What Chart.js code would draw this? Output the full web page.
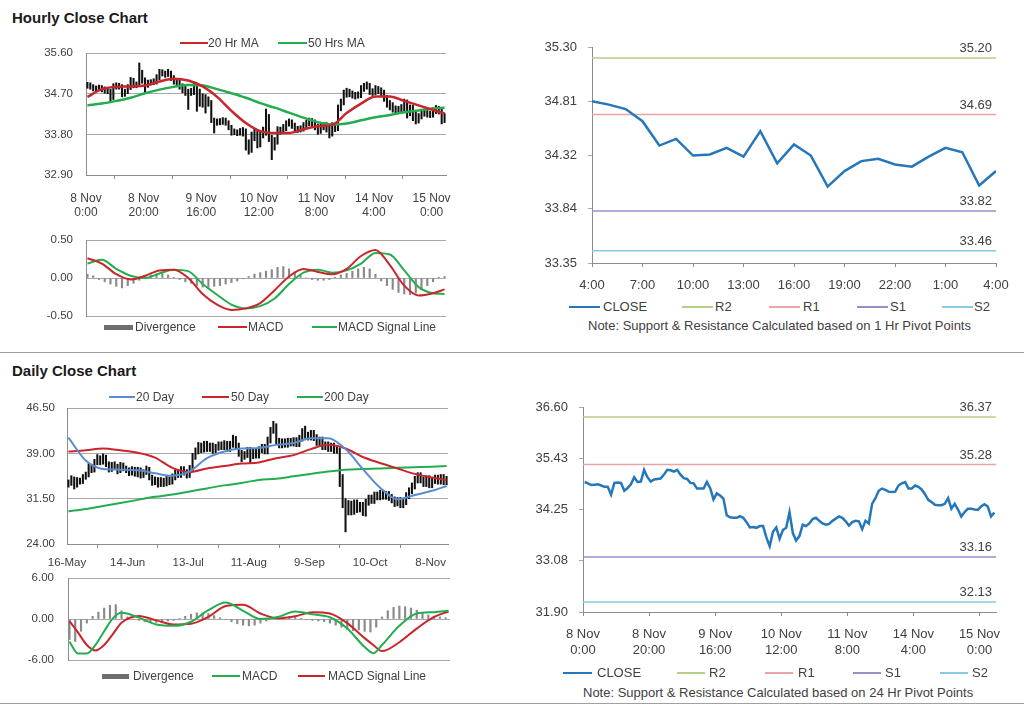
<!DOCTYPE html>
<html>
<head>
<meta charset="utf-8">
<script src="https://cdn.jsdelivr.net/npm/chart.js@4.4.0/dist/chart.umd.min.js"></script>
<style>
  body { margin: 0; background: #fff; font-family: "Liberation Sans", Arial, sans-serif; color: #404040; }
  #page { position: relative; width: 1024px; height: 707px; overflow: hidden; }
  canvas { position: absolute; }
  .title { position: absolute; left: 12px; font-weight: bold; font-size: 15px; color: #1a1a1a; }
  .rule { position: absolute; left: 0; width: 1024px; height: 0; border-top: 1px solid #a0a0a0; }
  .lg { position: absolute; white-space: nowrap; height: 16px; line-height: 16px; }
  .lg i { position: absolute; left: 0; display: block; }
  .note { position: absolute; font-size: 13px; line-height: 16px; white-space: nowrap; }
</style>
</head>
<body>
<div id="page">
  <div class="title" style="top:9px">Hourly Close Chart</div>
  <div class="title" style="top:362px">Daily Close Chart</div>
  <div class="rule" style="top:352px"></div>
  <div class="rule" style="top:703px"></div>

  <canvas id="hrPrice" width="426" height="177" style="left:30px;top:43px"></canvas>
  <canvas id="hrMacd" width="426" height="94" style="left:30px;top:230px"></canvas>
  <canvas id="hrPivot" width="482" height="258" style="left:530px;top:35px"></canvas>
  <canvas id="dayPrice" width="446" height="174" style="left:12px;top:398px"></canvas>
  <canvas id="dayMacd" width="448" height="100" style="left:12px;top:568px"></canvas>
  <canvas id="dayPivot" width="487" height="262" style="left:523px;top:395px"></canvas>

  <div class="note" style="left:588px;top:318px">Note: Support &amp; Resistance Calculated based on 1 Hr Pivot Points</div>
  <div class="note" style="left:583px;top:685px">Note: Support &amp; Resistance Calculated based on 24 Hr Pivot Points</div>
</div>

<script>
// ---- hourly data (8 Nov 0:00 .. 15 Nov 4:00, one bar per hour) ----
const hourLabels = [['8 Nov', '0:00'], ['8 Nov', '20:00'], ['9 Nov', '16:00'], ['10 Nov', '12:00'],
  ['11 Nov', '8:00'], ['14 Nov', '4:00'], ['15 Nov', '0:00']];
const hourTickPos = [0, 20, 40, 60, 80, 100, 120];

const hourClose = [
  34.88, 34.85, 34.81, 34.82, 34.83, 34.80, 34.77, 34.77, 34.59, 34.86,
  34.87, 34.86, 34.68, 34.74, 34.83, 34.99, 34.88, 34.89, 35.16, 34.99,
  34.89, 34.94, 34.95, 34.96, 35.05, 35.16, 35.15, 35.12, 35.16, 35.05,
  34.97, 34.95, 34.86, 34.85, 34.73, 34.73, 34.73, 34.88, 34.74, 34.48,
  34.62, 34.57, 34.50, 34.12, 34.07, 34.06, 34.06, 34.10, 34.06, 33.96,
  33.84, 33.85, 33.83, 33.87, 33.87, 33.61, 33.41, 33.74, 33.84, 33.58,
  33.78, 33.83, 34.19, 33.71, 33.54, 33.64, 33.90, 33.87, 33.93, 34.03,
  34.06, 33.99, 33.93, 33.90, 33.92, 33.99, 34.04, 34.09, 34.06, 33.98,
  33.88, 33.96, 33.99, 33.98, 33.80, 33.99, 33.93, 34.38, 34.51, 34.68,
  34.73, 34.70, 34.66, 34.65, 34.66, 34.80, 34.85, 34.88, 34.73, 34.73,
  34.80, 34.77, 34.71, 34.60, 34.47, 34.42, 34.36, 34.35, 34.35, 34.38,
  34.51, 34.27, 34.38, 34.25, 34.09, 34.19, 34.27, 34.27, 34.25, 34.24,
  34.32, 34.37, 34.32, 34.09, 34.18];
const hourHigh = [
  34.95, 34.94, 34.90, 34.87, 34.89, 34.88, 34.85, 34.83, 34.80, 34.92,
  34.94, 34.93, 34.90, 34.80, 34.90, 35.06, 35.04, 34.96, 35.38, 35.22,
  35.05, 35.00, 35.01, 35.03, 35.12, 35.24, 35.23, 35.20, 35.24, 35.20,
  35.10, 35.03, 35.01, 34.92, 34.90, 34.80, 34.82, 34.95, 34.92, 34.80,
  34.70, 34.68, 34.63, 34.55, 34.16, 34.14, 34.15, 34.17, 34.16, 34.10,
  34.00, 33.92, 33.90, 33.93, 33.95, 33.92, 33.68, 33.85, 33.92, 33.88,
  33.86, 33.96, 34.36, 34.24, 33.78, 33.73, 33.97, 33.96, 34.02, 34.10,
  34.14, 34.12, 34.05, 33.98, 33.99, 34.06, 34.11, 34.16, 34.15, 34.12,
  34.03, 34.03, 34.06, 34.06, 34.04, 34.06, 34.05, 34.45, 34.58, 34.78,
  34.82, 34.80, 34.76, 34.73, 34.74, 34.88, 34.93, 34.96, 34.93, 34.81,
  34.88, 34.86, 34.83, 34.78, 34.66, 34.55, 34.50, 34.43, 34.42, 34.46,
  34.58, 34.56, 34.45, 34.44, 34.30, 34.26, 34.33, 34.34, 34.33, 34.31,
  34.39, 34.44, 34.42, 34.38, 34.26];
const hourLow = [
  34.82, 34.80, 34.76, 34.76, 34.77, 34.74, 34.71, 34.70, 34.53, 34.57,
  34.80, 34.80, 34.63, 34.64, 34.70, 34.79, 34.83, 34.83, 34.86, 34.93,
  34.72, 34.84, 34.89, 34.90, 34.91, 35.01, 35.09, 35.06, 35.08, 34.99,
  34.91, 34.89, 34.80, 34.72, 34.66, 34.35, 34.66, 34.68, 34.31, 34.42,
  34.40, 34.27, 34.42, 34.06, 33.83, 34.00, 34.01, 34.02, 34.00, 33.90,
  33.78, 33.79, 33.77, 33.78, 33.76, 33.45, 33.36, 33.40, 33.66, 33.50,
  33.52, 33.72, 33.78, 33.64, 33.24, 33.45, 33.58, 33.80, 33.82, 33.88,
  33.98, 33.93, 33.86, 33.84, 33.85, 33.87, 33.94, 33.99, 33.99, 33.90,
  33.80, 33.82, 33.90, 33.85, 33.72, 33.76, 33.86, 33.88, 34.32, 34.45,
  34.62, 34.63, 34.60, 34.58, 34.60, 34.61, 34.75, 34.80, 34.68, 34.66,
  34.68, 34.70, 34.64, 34.53, 34.40, 34.34, 34.29, 34.28, 34.29, 34.30,
  34.32, 34.16, 34.21, 34.10, 34.03, 34.05, 34.14, 34.20, 34.18, 34.17,
  34.18, 34.26, 34.25, 34.03, 34.06];

// moving averages and MACD, read every 5 hours
const hourMaIdx = [0, 5, 10, 15, 20, 25, 30, 35, 40, 45, 50, 55, 60, 65, 70, 75, 80, 85, 90, 95, 100, 105, 110, 115, 120, 124];
const ma20Hr = [34.63, 34.80, 34.85, 34.86, 34.88, 34.97, 35.03, 34.99, 34.86, 34.63, 34.32, 34.05, 33.87,
  33.83, 33.83, 33.91, 33.98, 34.01, 34.27, 34.48, 34.64, 34.64, 34.54, 34.44, 34.34, 34.26];
const ma50Hr = [34.44, 34.48, 34.54, 34.61, 34.71, 34.79, 34.85, 34.89, 34.88, 34.80, 34.71, 34.61, 34.49,
  34.39, 34.28, 34.17, 34.07, 34.02, 34.04, 34.11, 34.18, 34.23, 34.29, 34.33, 34.37, 34.39];
const macdHr = [0.26, 0.19, 0.05, -0.02, 0.03, 0.10, 0.11, 0.00, -0.21, -0.35, -0.42, -0.40, -0.33,
  -0.16, 0.02, 0.12, 0.08, 0.05, 0.12, 0.29, 0.37, 0.17, -0.10, -0.23, -0.20, -0.15];
const signalHr = [0.19, 0.24, 0.12, 0.03, 0.00, 0.06, 0.11, 0.09, -0.08, -0.22, -0.35, -0.40, -0.37,
  -0.27, -0.08, 0.07, 0.11, 0.07, 0.10, 0.19, 0.33, 0.31, 0.10, -0.12, -0.20, -0.21];
// divergence, read every 2 hours
const divHr = [
  0.05, 0.03, -0.02, -0.05, -0.08, -0.11, -0.13, -0.10, -0.07, -0.03,
  0.02, 0.04, 0.05, 0.06, 0.04, 0.01, -0.02, -0.05, -0.07, -0.10,
  -0.12, -0.12, -0.11, -0.10, -0.08, -0.06, -0.04, -0.01, 0.02, 0.05,
  0.07, 0.09, 0.11, 0.14, 0.15, 0.12, 0.08, 0.04, 0.00, -0.02,
  -0.03, -0.03, -0.02, 0.01, 0.04, 0.06, 0.09, 0.12, 0.14, 0.12,
  0.05, -0.04, -0.10, -0.15, -0.19, -0.21, -0.22, -0.20, -0.15, -0.10,
  -0.05, 0.01, 0.02];

const hrPriceTicks = [32.90, 33.80, 34.70, 35.60];
const hrMacdTicks = [-0.50, 0.00, 0.50];

// ---- 1 hr pivot (last 24 hours) ----
const pivotHrLabels = ['4:00', '7:00', '10:00', '13:00', '16:00', '19:00', '22:00', '1:00', '4:00'];
const pivotHrTickPos = [0, 3, 6, 9, 12, 15, 18, 21, 24];
const pivotHrClose = [34.81, 34.78, 34.74, 34.63, 34.41, 34.47, 34.32, 34.33, 34.39, 34.31, 34.54, 34.25,
  34.42, 34.32, 34.04, 34.18, 34.27, 34.29, 34.24, 34.22, 34.31, 34.39, 34.35, 34.05, 34.18];
const levelNames = ['R2', 'R1', 'S1', 'S2'];
const pivotHrLevels = [35.20, 34.69, 33.82, 33.46];
const pivotHrTicks = [33.35, 33.84, 34.32, 34.81, 35.30];

// ---- daily data (16 May .. 15 Nov) ----
const dayLabels = ['16-May', '14-Jun', '13-Jul', '11-Aug', '9-Sep', '10-Oct', '8-Nov'];
const dayTickPos = [0, 21, 42, 63, 84, 105, 126];
const dayClose = [
  34.0, 34.8, 33.7, 34.6, 34.3, 35.0, 35.4, 36.8, 36.2, 37.5,
  38.2, 37.6, 38.4, 37.2, 36.4, 37.0, 36.8, 36.1, 37.0, 36.5,
  36.2, 35.8, 36.3, 35.6, 36.2, 35.4, 35.9, 36.4, 35.0, 34.2,
  34.6, 33.9, 34.5, 34.0, 34.7, 34.3, 35.1, 35.8, 35.5, 36.3,
  35.9, 35.4, 36.5, 38.5, 39.4, 40.3, 39.6, 40.5, 39.8, 40.2,
  39.5, 40.0, 40.4, 40.1, 40.6, 39.8, 40.5, 41.3, 40.2, 39.0,
  38.5, 38.8, 39.5, 38.6, 39.2, 38.7, 39.6, 40.0, 39.4, 41.2,
  42.8, 43.6, 41.0, 40.4, 40.9, 40.5, 41.0, 40.7, 41.1, 40.6,
  41.5, 42.6, 42.0, 41.7, 42.3, 41.6, 40.8, 41.2, 40.1, 40.4,
  39.8, 40.2, 39.5, 39.6, 35.0, 30.8, 29.5, 30.5, 29.4, 30.8,
  29.8, 30.4, 29.2, 30.9, 31.6, 31.2, 32.1, 31.8, 32.4, 31.9,
  32.2, 31.7, 31.3, 30.8, 31.2, 30.5, 31.0, 32.0, 32.8, 33.6,
  34.6, 35.3, 34.6, 34.0, 34.8, 33.8, 34.5, 34.9, 34.4, 35.0,
  34.3, 34.7];
const dayHigh = [
  34.6, 35.3, 35.1, 35.0, 34.9, 35.5, 35.9, 37.3, 37.2, 38.0,
  38.8, 38.6, 38.9, 38.7, 37.6, 37.5, 37.6, 37.2, 37.5, 37.4,
  36.9, 36.6, 36.8, 36.7, 36.7, 36.6, 36.3, 36.9, 36.7, 35.4,
  35.1, 35.0, 35.0, 34.9, 35.2, 35.1, 35.6, 36.3, 36.3, 36.8,
  36.8, 36.3, 37.0, 39.0, 39.9, 40.8, 40.7, 41.0, 41.0, 40.7,
  40.7, 40.5, 40.9, 40.9, 41.1, 41.0, 41.0, 42.0, 41.8, 40.7,
  39.5, 39.3, 40.0, 40.0, 39.7, 39.7, 40.1, 40.5, 40.5, 41.7,
  43.3, 44.3, 43.9, 41.5, 41.4, 41.4, 41.5, 41.5, 41.6, 41.6,
  42.0, 43.1, 43.5, 42.5, 42.8, 42.8, 42.1, 41.7, 41.7, 40.9,
  40.9, 40.7, 40.7, 40.1, 39.9, 35.5, 31.5, 31.2, 31.1, 31.3,
  31.3, 30.9, 30.9, 31.4, 32.1, 32.1, 32.6, 32.6, 32.9, 32.9,
  32.7, 32.7, 32.2, 31.8, 31.7, 31.7, 31.5, 32.5, 33.3, 34.1,
  35.2, 35.8, 35.8, 35.1, 35.3, 35.3, 35.0, 35.4, 35.4, 35.5,
  35.5, 35.2];
const dayLow = [
  33.4, 33.7, 33.1, 33.4, 33.9, 34.0, 34.7, 35.1, 35.8, 35.9,
  37.1, 37.1, 37.2, 36.8, 35.9, 36.0, 36.4, 35.6, 35.8, 36.1,
  35.8, 35.3, 35.4, 35.2, 35.1, 34.9, 35.0, 35.5, 34.6, 33.7,
  33.8, 33.4, 33.5, 33.5, 33.6, 33.8, 33.9, 34.6, 35.0, 35.0,
  35.4, 34.9, 35.0, 36.1, 38.0, 38.9, 39.1, 39.2, 39.3, 39.3,
  39.0, 39.1, 39.5, 39.6, 39.6, 39.3, 39.3, 40.0, 39.7, 38.5,
  37.6, 38.0, 38.3, 37.3, 38.1, 38.2, 38.2, 39.1, 38.9, 38.9,
  40.7, 42.3, 40.5, 39.9, 39.9, 40.0, 40.0, 40.2, 40.2, 40.1,
  40.1, 41.0, 41.5, 41.2, 41.2, 41.1, 40.3, 40.3, 39.6, 39.6,
  39.3, 39.3, 39.0, 39.0, 33.5, 30.0, 26.0, 28.8, 28.8, 28.9,
  29.2, 29.3, 28.7, 28.6, 30.4, 30.7, 30.7, 31.3, 31.3, 31.4,
  31.4, 31.2, 30.8, 30.2, 30.3, 30.0, 30.0, 30.5, 31.5, 32.3,
  33.1, 34.1, 34.1, 33.5, 33.5, 33.3, 33.3, 34.0, 33.9, 33.9,
  33.8, 33.8];

// moving averages, read every 6 days
const dayMaIdx = [0, 6, 12, 18, 24, 30, 36, 42, 48, 54, 60, 66, 72, 78, 84, 90, 96, 102, 108, 114, 120, 126, 131];
const ma20Day = [41.6, 37.8, 36.4, 36.3, 36.2, 35.7, 35.3, 36.0, 38.2, 39.3, 39.8, 39.9, 40.4, 40.7, 41.5,
  41.5, 39.7, 36.4, 33.3, 31.4, 32.1, 32.8, 33.6];
const ma50Day = [39.3, 39.5, 39.8, 39.5, 39.1, 38.3, 36.6, 35.9, 36.5, 36.9, 37.3, 37.5, 38.2, 38.7, 39.7,
  40.4, 39.8, 38.4, 37.4, 36.5, 35.6, 35.0, 34.6];
const ma200Day = [29.4, 29.8, 30.3, 30.8, 31.3, 31.8, 32.2, 32.7, 33.2, 33.7, 34.1, 34.6, 34.8, 35.2, 35.6,
  36.0, 36.3, 36.4, 36.5, 36.6, 36.7, 36.8, 36.9];

const dayMacdIdx = [0, 3, 6, 9, 12, 15, 18, 24, 30, 36, 42, 48, 54, 60, 66, 72, 78, 84, 90, 96, 102, 105, 108, 114, 120, 126, 131];
const macdDay = [-3.3, -5.05, -5.05, -3.8, -1.8, 0.1, 0.9, 0.2, -0.8, -1.0, -0.4, 1.3, 2.4, 1.2, 0.0, 0.3,
  1.1, 0.7, 0.25, -1.4, -4.1, -5.0, -3.8, -1.0, 0.8, 1.0, 1.2];
const signalDay = [-0.3, -2.0, -3.8, -4.6, -3.8, -2.2, -0.55, 0.45, -0.2, -0.8, -0.7, 0.3, 1.9, 2.1, 0.8, 0.1,
  0.4, 1.0, 0.8, -0.6, -2.8, -3.8, -4.7, -3.4, -1.4, 0.3, 1.1];
// divergence, read every 2 days
const divDay = [
  -3.0, -3.3, -1.8, -0.6, 0.4, 1.0, 1.6, 2.0, 2.1, 1.2,
  0.3, 0.0, -0.2, -0.4, -0.5, -0.5, -0.4, -0.3, -0.2, 0.1,
  0.4, 0.7, 0.9, 0.9, 0.8, 0.5, 0.2, -0.1, -0.4, -0.7,
  -0.9, -1.0, -0.9, -0.6, -0.3, 0.0, 0.2, 0.3, 0.4, 0.3,
  0.1, -0.1, -0.2, -0.3, -0.4, -0.6, -0.9, -1.2, -1.5, -1.7,
  -1.6, -1.8, -1.9, -1.2, 0.3, 1.2, 1.7, 1.9, 1.8, 1.6,
  1.3, 0.9, 0.6, 0.4, 0.3, 0.2];

const dayPriceTicks = [24.00, 31.50, 39.00, 46.50];
const dayMacdTicks = [-6.00, 0.00, 6.00];

// ---- 24 hr pivot ----
const pivotDayLevels = [36.37, 35.28, 33.16, 32.13];
const pivotDayTicks = [31.90, 33.08, 34.25, 35.43, 36.60];

// ---- styling ----
const FONT = '"Liberation Sans", Arial, sans-serif';
Chart.defaults.font.family = FONT;
Chart.defaults.color = '#404040';

const RED = '#c9252b';
const GREEN = '#23ad4f';
const BLUE20 = '#5a8dcf';
const CLOSE_BLUE = '#2477bb';
const HIST = '#8a8a8a';
const LEVEL_COLORS = ['#b6cf87', '#eba3a6', '#a08cc4', '#86cbe2'];
const GRID = '#a8a8a8';
const AXIS = '#8c8c8c';

function yAxis(min, max, ticks, o) {
  return {
    type: 'linear', min: min, max: max,
    afterBuildTicks: s => { s.ticks = ticks.map(v => ({ value: v })); },
    // fixed width, and keep label overhang from moving the plot area
    afterFit: s => { s.width = o.w; s.paddingTop = 4; s.paddingBottom = 4; },
    ticks: { padding: o.pad, font: { size: o.size }, callback: v => v.toFixed(2) },
    grid: { color: GRID, drawOnChartArea: o.grid, drawTicks: o.tick, tickLength: 4 },
    border: { display: true, color: AXIS }
  };
}

function xAxis(max, pos, labels, o) {
  return {
    type: 'linear', min: 0, max: max, offset: false, display: o.show !== false,
    afterBuildTicks: s => { s.ticks = pos.map(v => ({ value: v })); },
    afterFit: s => { s.height = o.h; s.paddingLeft = 0; s.paddingRight = 0; },
    ticks: { autoSkip: false, maxRotation: 0, padding: o.pad, font: { size: o.size }, callback: (v, i) => labels[i] },
    grid: { drawOnChartArea: false, drawTicks: true, tickLength: 4, color: AXIS },
    border: { display: true, color: AXIS }
  };
}

function options(x, y, pad) {
  return {
    responsive: false, animation: false, events: [],
    layout: { padding: pad },
    plugins: { legend: { display: false }, tooltip: { enabled: false } },
    scales: { x: x, y: y }
  };
}

function hlcBars(hi, lo) {
  return { type: 'bar', data: hi.map((h, i) => ({ x: i + 0.5, y: [lo[i], h] })),
    backgroundColor: '#101010', barThickness: 1.4, order: 2 };
}

function curve(xs, ys, color, width) {
  return { type: 'line', data: ys.map((v, k) => ({ x: xs[k], y: v })), borderColor: color,
    borderWidth: width, pointRadius: 0, cubicInterpolationMode: 'monotone', order: 0 };
}

function histogram(vals, step) {
  return { type: 'bar', data: vals.map((v, k) => ({ x: k * step + 0.5, y: v })),
    backgroundColor: HIST, barThickness: 1.5, order: 2 };
}

function levelLine(v, max, color) {
  return { type: 'line', data: [{ x: 0, y: v }, { x: max, y: v }], borderColor: color,
    borderWidth: 1.5, pointRadius: 0, level: v, order: 1 };
}

// value label above each support / resistance line
const levelLabels = {
  id: 'levelLabels',
  afterDatasetsDraw(chart) {
    const { ctx, chartArea, scales } = chart;
    chart.data.datasets.forEach(ds => {
      if (ds.level === undefined) return;
      const y = scales.y.getPixelForValue(ds.level);
      ctx.save();
      ctx.font = '13px ' + FONT;
      ctx.fillStyle = '#404040';
      ctx.textAlign = 'right';
      ctx.fillText(ds.level.toFixed(2), chartArea.right - 4, y - 6);
      ctx.restore();
    });
  }
};

const page = document.getElementById('page');
function legend(y, size, items) {
  items.forEach(([x, w, color, thick, text, tx]) => {
    const d = document.createElement('div');
    d.className = 'lg';
    d.style.left = x + 'px';
    d.style.top = (y - 8) + 'px';
    d.style.fontSize = size + 'px';
    d.innerHTML = '<i style="top:' + (8 - thick / 2) + 'px;width:' + w + 'px;height:' + thick +
      'px;background:' + color + '"></i><span style="padding-left:' + (tx - x) + 'px">' + text + '</span>';
    page.appendChild(d);
  });
}

const hourMaX = hourMaIdx.map(i => i + 0.5);
const dayMaX = dayMaIdx.map(i => i + 0.5);
const dayMacdX = dayMacdIdx.map(i => i + 0.5);

// Hourly close with moving averages
new Chart(document.getElementById('hrPrice'), {
  type: 'bar',
  data: { datasets: [
    curve(hourMaX, ma20Hr, RED, 2.5),
    curve(hourMaX, ma50Hr, GREEN, 2.5),
    hlcBars(hourHigh, hourLow)
  ] },
  options: options(
    xAxis(125, hourTickPos, hourLabels, { h: 45, pad: 12, size: 12 }),
    yAxis(32.90, 35.60, hrPriceTicks, { w: 56, pad: 13, size: 11.5, grid: true, tick: false }),
    { top: 10, right: 10, left: 0, bottom: 0 })
});

// Hourly MACD
new Chart(document.getElementById('hrMacd'), {
  type: 'bar',
  data: { datasets: [
    curve(hourMaX, macdHr, RED, 2),
    curve(hourMaX, signalHr, GREEN, 2),
    histogram(divHr, 2)
  ] },
  options: options(
    xAxis(125, hourTickPos, hourLabels, { h: 0, pad: 0, size: 12, show: false }),
    yAxis(-0.5, 0.5, hrMacdTicks, { w: 56, pad: 13, size: 11.5, grid: true, tick: false }),
    { top: 10, right: 10, left: 0, bottom: 8 })
});

// 1 Hr pivot chart
new Chart(document.getElementById('hrPivot'), {
  type: 'line',
  data: { datasets: [
    { type: 'line', data: pivotHrClose.map((v, i) => ({ x: i, y: v })), borderColor: CLOSE_BLUE,
      borderWidth: 2.5, pointRadius: 0, order: 0 },
    ...pivotHrLevels.map((v, k) => levelLine(v, 24, LEVEL_COLORS[k]))
  ] },
  options: options(
    xAxis(24, pivotHrTickPos, pivotHrLabels, { h: 30, pad: 11, size: 13 }),
    yAxis(33.35, 35.30, pivotHrTicks, { w: 62, pad: 11, size: 13, grid: false, tick: true }),
    { top: 12, right: 16, left: 0, bottom: 0 }),
  plugins: [levelLabels]
});

// Daily close with moving averages
new Chart(document.getElementById('dayPrice'), {
  type: 'bar',
  data: { datasets: [
    curve(dayMaX, ma20Day, BLUE20, 2),
    curve(dayMaX, ma50Day, RED, 2),
    curve(dayMaX, ma200Day, GREEN, 2),
    hlcBars(dayHigh, dayLow)
  ] },
  options: options(
    xAxis(132, dayTickPos, dayLabels, { h: 28, pad: 8, size: 11.5 }),
    yAxis(24, 46.5, dayPriceTicks, { w: 55, pad: 12, size: 11.5, grid: true, tick: false }),
    { top: 10, right: 10, left: 0, bottom: 0 })
});

// Daily MACD
new Chart(document.getElementById('dayMacd'), {
  type: 'bar',
  data: { datasets: [
    curve(dayMacdX, macdDay, GREEN, 2),
    curve(dayMacdX, signalDay, RED, 2),
    histogram(divDay, 2)
  ] },
  options: options(
    xAxis(132, dayTickPos, dayLabels, { h: 0, pad: 0, size: 11.5, show: false }),
    yAxis(-6, 6, dayMacdTicks, { w: 56, pad: 14, size: 11.5, grid: true, tick: false }),
    { top: 10, right: 10, left: 0, bottom: 8 })
});

// 24 Hr pivot chart
new Chart(document.getElementById('dayPivot'), {
  type: 'line',
  data: { datasets: [
    { type: 'line', data: hourClose.map((v, i) => ({ x: i + 0.5, y: v })), borderColor: CLOSE_BLUE,
      borderWidth: 2.5, pointRadius: 0, order: 0 },
    ...pivotDayLevels.map((v, k) => levelLine(v, 125, LEVEL_COLORS[k]))
  ] },
  options: options(
    xAxis(125, hourTickPos, hourLabels, { h: 45, pad: 11, size: 13 }),
    yAxis(31.90, 36.60, pivotDayTicks, { w: 60, pad: 11, size: 13, grid: false, tick: true }),
    { top: 12, right: 14, left: 0, bottom: 0 }),
  plugins: [levelLabels]
});

// legends
legend(43, 12, [[180, 28, RED, 2.5, '20 Hr MA', 208], [278, 29, GREEN, 2.5, '50 Hrs MA', 308]]);
legend(327, 12, [[104, 29, '#6e6e6e', 5, 'Divergence', 135], [218, 29, RED, 2, 'MACD', 248],
  [312, 25, GREEN, 2, 'MACD Signal Line', 338]]);
legend(307, 13, [[569, 31, CLOSE_BLUE, 2.5, 'CLOSE', 603]].concat(
  levelNames.map((n, k) => [[682, 769, 857, 942][k], 31, LEVEL_COLORS[k], 1.5, n, [715, 803, 890, 974][k]])));
legend(397, 12, [[109, 26, BLUE20, 2, '20 Day', 136], [202, 27, RED, 2, '50 Day', 231],
  [297, 26, GREEN, 2, '200 Day', 324]]);
legend(676, 12, [[102, 27, '#6e6e6e', 5, 'Divergence', 133], [212, 28, GREEN, 2, 'MACD', 242],
  [298, 27, RED, 2, 'MACD Signal Line', 328]]);
legend(673, 13, [[563, 29, CLOSE_BLUE, 2.5, 'CLOSE', 597]].concat(
  levelNames.map((n, k) => [[677, 765, 853, 940][k], 28, LEVEL_COLORS[k], 1.5, n, [709, 798, 885, 972][k]])));
</script>
</body>
</html>
